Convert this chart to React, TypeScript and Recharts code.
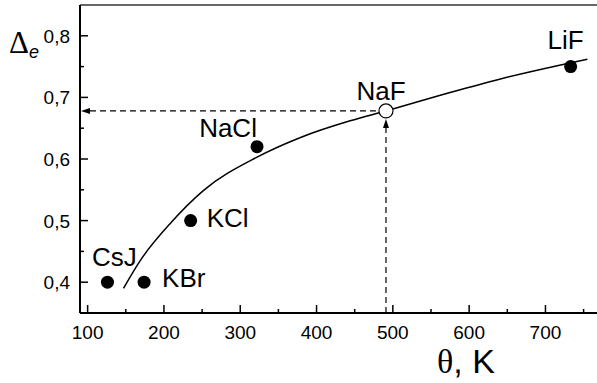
import {
  ComposedChart,
  Line,
  Scatter,
  XAxis,
  YAxis,
  ReferenceLine,
} from "recharts";

// measured compounds: Debye temperature θ (K) vs Δe
const compounds = ["CsJ", "KBr", "KCl", "NaCl", "NaF", "LiF"];
const compoundTheta = [126, 174, 235, 322, 491, 733];
const compoundDelta = [0.4, 0.4, 0.5, 0.62, 0.678, 0.75];
const openCompound = "NaF";

// fitted curve
const curveTheta = [147, 170, 208, 252, 322, 379, 444, 491, 575, 641, 755];
const curveDelta = [0.39, 0.437, 0.495, 0.549, 0.603, 0.635, 0.662, 0.678, 0.708, 0.73, 0.762];

// axes
const xTicks = [100, 150, 200, 250, 300, 350, 400, 450, 500, 550, 600, 650, 700, 750];
const xTickLabels = ["100", "200", "300", "400", "500", "600", "700"];
const yTicks = [0.4, 0.45, 0.5, 0.55, 0.6, 0.65, 0.7, 0.75, 0.8];
const yTickLabels = ["0,4", "0,5", "0,6", "0,7", "0,8"];

const pointData = compounds.map((name, i) => ({
  name,
  theta: compoundTheta[i],
  delta: compoundDelta[i],
}));
const curveData = curveTheta.map((t, i) => ({ theta: t, delta: curveDelta[i] }));

const naf = pointData.find((p) => p.name === openCompound)!;

const SANS = "'Liberation Sans', Arial, sans-serif";

// where each compound name sits relative to its marker
const labelPlace: Record<string, { dx: number; dy: number; anchor: "start" | "middle" }> = {
  CsJ: { dx: 7, dy: -16, anchor: "middle" },
  KBr: { dx: 18, dy: 5, anchor: "start" },
  KCl: { dx: 16, dy: 6, anchor: "start" },
  NaCl: { dx: -29, dy: -10, anchor: "middle" },
  NaF: { dx: -5, dy: -11, anchor: "middle" },
  LiF: { dx: -5, dy: -18, anchor: "middle" },
};

const fmtY = (v: number) => v.toFixed(1).replace(".", ",");

const XTick = (props: any) => {
  const { x, y, payload } = props;
  const label = String(payload.value);
  const major = xTickLabels.includes(label);
  return (
    <g>
      <line x1={x} x2={x} y1={y} y2={y - (major ? 8 : 4)} stroke="#000" strokeWidth={1.5} />
      {major && (
        <text x={x} y={y + 26} textAnchor="middle" fontSize={19} fontFamily={SANS} fill="#000">
          {label}
        </text>
      )}
    </g>
  );
};

const YTick = (props: any) => {
  const { x, y, payload } = props;
  const label = fmtY(payload.value);
  const major = yTickLabels.includes(label) && Math.abs(payload.value * 10 - Math.round(payload.value * 10)) < 1e-6;
  return (
    <g>
      <line x1={x} x2={x + (major ? 8 : 4)} y1={y} y2={y} stroke="#000" strokeWidth={1.5} />
      {major && (
        <text x={x - 10} y={y + 7} textAnchor="end" fontSize={19} fontFamily={SANS} fill="#000">
          {label}
        </text>
      )}
    </g>
  );
};

const PointShape = (props: any) => {
  const { cx, cy, payload } = props;
  const open = payload.name === openCompound;
  const lp = labelPlace[payload.name];
  return (
    <g>
      <circle
        cx={cx}
        cy={cy}
        r={open ? 7 : 6.5}
        fill={open ? "#fff" : "#000"}
        stroke="#000"
        strokeWidth={open ? 1.2 : 0}
      />
      <text
        x={cx + lp.dx}
        y={cy + lp.dy}
        textAnchor={lp.anchor}
        fontSize={26}
        fontFamily={SANS}
        fill="#000"
      >
        {payload.name}
      </text>
    </g>
  );
};

// dashed line with an arrowhead at its second end
const arrowShape = (tipGap: number) => (props: any) => {
  const { x1, y1, x2, y2 } = props;
  const len = Math.hypot(x2 - x1, y2 - y1) || 1;
  const ux = (x2 - x1) / len;
  const uy = (y2 - y1) / len;
  const tx = x2 - ux * tipGap;
  const ty = y2 - uy * tipGap;
  const bx = tx - ux * 9;
  const by = ty - uy * 9;
  const px = -uy * 3;
  const py = ux * 3;
  return (
    <g>
      <line x1={x1} y1={y1} x2={bx} y2={by} stroke="#000" strokeWidth={1.2} strokeDasharray="6 4" />
      <polygon points={`${tx},${ty} ${bx + px},${by + py} ${bx - px},${by - py}`} fill="#000" />
    </g>
  );
};

const YTitle = (props: any) => {
  const vb = props.viewBox;
  return (
    <text x={vb.x + 9} y={vb.y + 48} fill="#000">
      <tspan fontFamily="'Liberation Serif', serif" fontSize={31}>Δ</tspan>
      <tspan fontFamily={SANS} fontStyle="italic" fontSize={18} dy={5}>e</tspan>
    </text>
  );
};

const XTitle = (props: any) => {
  const vb = props.viewBox;
  return (
    <text x={vb.x + 357} y={vb.y + 60} fill="#000" fontSize={34}>
      <tspan fontFamily="'Liberation Serif', serif">θ</tspan>
      <tspan fontFamily={SANS}>, K</tspan>
    </text>
  );
};

export default function App() {
  return (
    <div
      style={{
        position: "absolute",
        left: 0,
        top: 0,
        width: 597,
        height: 383,
        overflow: "hidden",
        background: "#fff",
      }}
    >
      <ComposedChart
        width={620}
        height={383}
        margin={{ top: 5, right: 13.5, bottom: 0, left: 0 }}
      >
        <XAxis
          dataKey="theta"
          type="number"
          domain={[90, 780]}
          allowDataOverflow
          ticks={xTicks}
          interval={0}
          tickSize={0}
          tickMargin={0}
          tickLine={false}
          tick={<XTick />}
          height={70}
          axisLine={{ stroke: "#000", strokeWidth: 2 }}
          label={<XTitle />}
        />
        <YAxis
          dataKey="delta"
          type="number"
          domain={[0.35, 0.85]}
          allowDataOverflow
          ticks={yTicks}
          interval={0}
          tickSize={0}
          tickMargin={0}
          tickLine={false}
          tick={<YTick />}
          width={80}
          axisLine={{ stroke: "#000", strokeWidth: 2 }}
          label={<YTitle />}
        />
        <ReferenceLine y={0.85} stroke="#333" strokeWidth={1.5} ifOverflow="visible" />
        <ReferenceLine
          segment={[
            { x: naf.theta, y: naf.delta },
            { x: 90, y: naf.delta },
          ]}
          ifOverflow="visible"
          shape={arrowShape(1)}
        />
        <ReferenceLine
          segment={[
            { x: naf.theta, y: 0.35 },
            { x: naf.theta, y: naf.delta },
          ]}
          ifOverflow="visible"
          shape={arrowShape(8)}
        />
        <Line
          data={curveData}
          dataKey="delta"
          type="monotone"
          stroke="#000"
          strokeWidth={1.5}
          dot={false}
          activeDot={false}
          isAnimationActive={false}
        />
        <Scatter data={pointData} dataKey="delta" shape={<PointShape />} isAnimationActive={false} />
      </ComposedChart>
    </div>
  );
}
